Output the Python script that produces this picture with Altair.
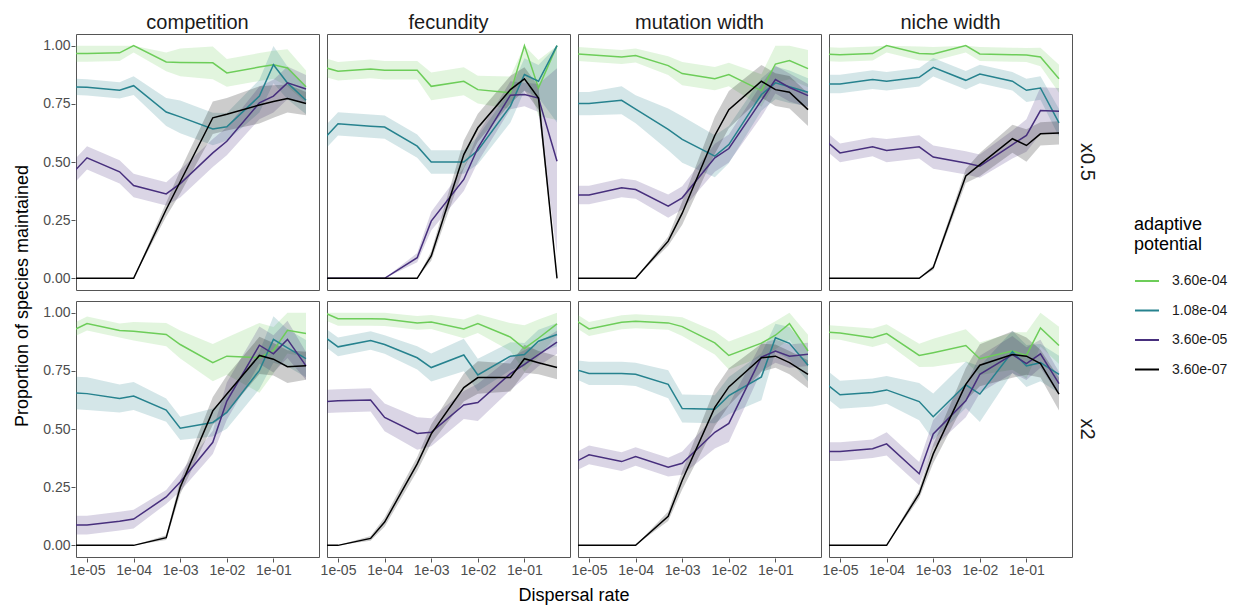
import altair as alt
import pandas as pd

# Dispersal rates (x positions of the points)
X = [5e-6, 1e-5, 5e-5, 1e-4, 5e-4, 1e-3, 5e-3, 1e-2, 5e-2, 1e-1, 2e-1, 5e-1]
X_TICKS = [1e-5, 1e-4, 1e-3, 1e-2, 1e-1]
X_TICK_LABELS = ["1e-05", "1e-04", "1e-03", "1e-02", "1e-01"]
Y_TICKS = [0, 0.25, 0.5, 0.75, 1.0]

TRAITS = ["competition", "fecundity", "mutation width", "niche width"]
SCALES = ["x0.5", "x2"]
POTENTIALS = ["3.60e-04", "1.08e-04", "3.60e-05", "3.60e-07"]
COLORS = ["#6DCD59", "#26828E", "#472F7D", "#000000"]

# means per panel: [green, teal, purple, black]
comp_half_mean = [
    [0.966, 0.966, 0.969, 1.00, 0.93, 0.928, 0.926, 0.883, 0.908, 0.918, 0.904, 0.823],
    [0.823, 0.821, 0.808, 0.828, 0.715, 0.694, 0.642, 0.651, 0.783, 0.918, 0.84, 0.765],
    [0.454, 0.518, 0.458, 0.399, 0.363, 0.407, 0.539, 0.589, 0.754, 0.783, 0.84, 0.814],
    [0, 0, 0, 0, 0.296, 0.415, 0.69, 0.705, 0.745, 0.76, 0.773, 0.751],
]
comp_half_se = [
    [0.035, 0.035, 0.035, 0.03, 0.04, 0.06, 0.07, 0.06, 0.06, 0.06, 0.08, 0.07],
    [0.035, 0.035, 0.035, 0.04, 0.06, 0.07, 0.07, 0.06, 0.07, 0.08, 0.07, 0.06],
    [0.05, 0.05, 0.05, 0.05, 0.05, 0.06, 0.06, 0.06, 0.07, 0.07, 0.07, 0.06],
    [0, 0, 0, 0, 0.03, 0.05, 0.07, 0.07, 0.08, 0.07, 0.06, 0.05],
]
fec_half_mean = [
    [0.907, 0.89, 0.90, 0.894, 0.894, 0.825, 0.847, 0.811, 0.797, 1.0, 0.818, 1.0],
    [0.60, 0.664, 0.654, 0.65, 0.568, 0.50, 0.50, 0.55, 0.74, 0.876, 0.847, 1.0],
    [0, 0, 0, 0, 0.089, 0.246, 0.425, 0.56, 0.787, 0.79, 0.775, 0.503],
    [0, 0, 0, 0, 0, 0.096, 0.532, 0.647, 0.811, 0.857, 0.775, 0.0],
]
fec_half_se = [
    [0.04, 0.04, 0.04, 0.04, 0.04, 0.06, 0.06, 0.06, 0.07, 0.12, 0.12, 0.32],
    [0.05, 0.05, 0.05, 0.05, 0.05, 0.05, 0.05, 0.06, 0.07, 0.07, 0.07, 0.33],
    [0, 0, 0, 0, 0.02, 0.04, 0.05, 0.06, 0.06, 0.05, 0.06, 0.40],
    [0, 0, 0, 0, 0, 0.02, 0.06, 0.06, 0.06, 0.05, 0.05, 0],
]
mut_half_mean = [
    [0.965, 0.961, 0.951, 0.958, 0.914, 0.88, 0.858, 0.876, 0.807, 0.921, 0.936, 0.901],
    [0.751, 0.751, 0.765, 0.727, 0.64, 0.597, 0.525, 0.575, 0.79, 0.84, 0.823, 0.80],
    [0.358, 0.358, 0.389, 0.382, 0.31, 0.346, 0.518, 0.558, 0.765, 0.854, 0.82, 0.785],
    [0, 0, 0, 0, 0.16, 0.28, 0.614, 0.725, 0.847, 0.811, 0.80, 0.725],
]
mut_half_se = [
    [0.03, 0.03, 0.03, 0.03, 0.04, 0.05, 0.05, 0.05, 0.07, 0.08, 0.08, 0.08],
    [0.05, 0.05, 0.06, 0.06, 0.09, 0.10, 0.09, 0.08, 0.07, 0.07, 0.07, 0.06],
    [0.04, 0.04, 0.04, 0.04, 0.05, 0.05, 0.06, 0.06, 0.07, 0.06, 0.06, 0.05],
    [0, 0, 0, 0, 0.02, 0.05, 0.08, 0.08, 0.07, 0.07, 0.07, 0.07],
]
niche_half_mean = [
    [0.964, 0.961, 0.966, 1.0, 0.966, 0.964, 1.0, 0.964, 0.961, 0.96, 0.951, 0.858],
    [0.835, 0.835, 0.854, 0.847, 0.864, 0.907, 0.851, 0.878, 0.847, 0.808, 0.818, 0.668],
    [0.59, 0.539, 0.565, 0.549, 0.565, 0.521, 0.496, 0.482, 0.575, 0.614, 0.721, 0.718],
    [0, 0, 0, 0, 0, 0.046, 0.44, 0.489, 0.6, 0.571, 0.621, 0.625],
]
niche_half_se = [
    [0.03, 0.03, 0.03, 0.03, 0.03, 0.03, 0.03, 0.03, 0.03, 0.03, 0.04, 0.06],
    [0.04, 0.04, 0.04, 0.04, 0.04, 0.04, 0.04, 0.04, 0.04, 0.05, 0.05, 0.06],
    [0.04, 0.04, 0.04, 0.05, 0.05, 0.05, 0.05, 0.05, 0.06, 0.07, 0.10, 0.10],
    [0, 0, 0, 0, 0, 0.01, 0.03, 0.05, 0.06, 0.07, 0.05, 0.05],
]
comp_two_mean = [
    [0.924, 0.953, 0.923, 0.92, 0.906, 0.863, 0.785, 0.813, 0.806, 0.838, 0.924, 0.91],
    [0.655, 0.652, 0.631, 0.642, 0.581, 0.503, 0.528, 0.571, 0.752, 0.885, 0.849, 0.802],
    [0.087, 0.087, 0.104, 0.113, 0.208, 0.272, 0.443, 0.62, 0.86, 0.823, 0.885, 0.771],
    [0, 0, 0, 0, 0.033, 0.25, 0.578, 0.65, 0.816, 0.80, 0.768, 0.772],
]
comp_two_se = [
    [0.03, 0.03, 0.03, 0.04, 0.05, 0.06, 0.08, 0.08, 0.15, 0.10, 0.10, 0.10],
    [0.07, 0.07, 0.06, 0.06, 0.05, 0.05, 0.06, 0.07, 0.08, 0.10, 0.08, 0.08],
    [0.04, 0.04, 0.04, 0.04, 0.03, 0.04, 0.05, 0.08, 0.08, 0.08, 0.08, 0.06],
    [0, 0, 0, 0, 0.01, 0.03, 0.06, 0.08, 0.08, 0.07, 0.07, 0.06],
]
fec_two_mean = [
    [1.0, 0.974, 0.974, 0.973, 0.956, 0.96, 0.93, 0.953, 0.895, 0.846, 0.89, 0.952],
    [0.897, 0.853, 0.88, 0.863, 0.806, 0.764, 0.818, 0.732, 0.813, 0.82, 0.877, 0.906],
    [0.618, 0.621, 0.625, 0.55, 0.481, 0.486, 0.603, 0.614, 0.738, 0.778, 0.82, 0.873],
    [0, 0.0, 0.03, 0.1, 0.35, 0.479, 0.678, 0.721, 0.721, 0.802, 0.785, 0.764],
]
fec_two_se = [
    [0.03, 0.03, 0.03, 0.03, 0.03, 0.03, 0.04, 0.04, 0.06, 0.10, 0.08, 0.05],
    [0.04, 0.04, 0.04, 0.04, 0.05, 0.06, 0.07, 0.07, 0.06, 0.05, 0.05, 0.05],
    [0.05, 0.05, 0.05, 0.06, 0.07, 0.06, 0.06, 0.08, 0.07, 0.06, 0.05, 0.05],
    [0, 0, 0.01, 0.02, 0.03, 0.04, 0.06, 0.07, 0.06, 0.06, 0.05, 0.05],
]
mut_two_mean = [
    [0.968, 0.93, 0.959, 0.963, 0.956, 0.94, 0.87, 0.816, 0.869, 0.903, 0.953, 0.835],
    [0.756, 0.739, 0.739, 0.735, 0.692, 0.588, 0.585, 0.643, 0.724, 0.892, 0.868, 0.774],
    [0.358, 0.389, 0.36, 0.382, 0.336, 0.353, 0.486, 0.524, 0.809, 0.835, 0.813, 0.821],
    [0, 0, 0, 0, 0.125, 0.28, 0.593, 0.681, 0.806, 0.813, 0.785, 0.735],
]
mut_two_se = [
    [0.03, 0.03, 0.03, 0.03, 0.03, 0.04, 0.05, 0.06, 0.06, 0.06, 0.07, 0.07],
    [0.04, 0.05, 0.05, 0.05, 0.06, 0.06, 0.06, 0.08, 0.10, 0.06, 0.07, 0.07],
    [0.04, 0.04, 0.04, 0.04, 0.04, 0.05, 0.07, 0.08, 0.06, 0.05, 0.05, 0.05],
    [0, 0, 0, 0, 0.02, 0.04, 0.08, 0.08, 0.06, 0.05, 0.05, 0.06],
]
niche_two_mean = [
    [0.916, 0.913, 0.892, 0.91, 0.816, 0.828, 0.859, 0.802, 0.835, 0.816, 0.934, 0.859],
    [0.695, 0.647, 0.657, 0.668, 0.618, 0.553, 0.69, 0.65, 0.832, 0.771, 0.785, 0.735],
    [0.403, 0.403, 0.415, 0.436, 0.308, 0.479, 0.621, 0.735, 0.82, 0.781, 0.823, 0.695],
    [0, 0, 0, 0, 0.222, 0.393, 0.692, 0.774, 0.82, 0.813, 0.781, 0.65],
]
niche_two_se = [
    [0.03, 0.03, 0.04, 0.04, 0.05, 0.06, 0.07, 0.07, 0.08, 0.10, 0.08, 0.08],
    [0.06, 0.06, 0.06, 0.06, 0.08, 0.10, 0.10, 0.12, 0.09, 0.09, 0.08, 0.08],
    [0.04, 0.04, 0.04, 0.05, 0.05, 0.06, 0.07, 0.08, 0.08, 0.07, 0.06, 0.05],
    [0, 0, 0, 0, 0.02, 0.04, 0.07, 0.09, 0.10, 0.08, 0.06, 0.07],
]

PANELS = [
    ("competition", "x0.5", comp_half_mean, comp_half_se),
    ("fecundity", "x0.5", fec_half_mean, fec_half_se),
    ("mutation width", "x0.5", mut_half_mean, mut_half_se),
    ("niche width", "x0.5", niche_half_mean, niche_half_se),
    ("competition", "x2", comp_two_mean, comp_two_se),
    ("fecundity", "x2", fec_two_mean, fec_two_se),
    ("mutation width", "x2", mut_two_mean, mut_two_se),
    ("niche width", "x2", niche_two_mean, niche_two_se),
]

rows = []
for trait, sc, means, ses in PANELS:
    for k, pot in enumerate(POTENTIALS):
        for i, xv in enumerate(X):
            m = means[k][i]
            s = ses[k][i]
            rows.append({
                "trait": trait, "scale": sc, "pot": pot, "order": k,
                "x": xv, "m": m,
                "lo": max(0.0, m - s), "hi": min(1.0, m + s),
            })
df = pd.DataFrame(rows)

FONT = "Liberation Sans"
label_expr = str(X_TICK_LABELS) + "[round(log(datum.value)/LN10)+5]"

xenc = alt.X(
    "x:Q",
    title=None,
    scale=alt.Scale(type="log", domain=[5.8e-6, 0.95], nice=False),
    axis=alt.Axis(values=X_TICKS, labelExpr=label_expr),
)
yscale = alt.Scale(domain=[-0.05, 1.05], nice=False, zero=False)
yaxis = alt.Axis(values=Y_TICKS, format=".2f")

# ribbon fill scale lists the same pairs in reverse order so its (disabled)
# legend is not merged with the line legend
area = alt.Chart().mark_area(opacity=0.2, clip=True).encode(
    x=xenc,
    y=alt.Y("lo:Q", scale=yscale, axis=yaxis, title=None),
    y2="hi:Q",
    fill=alt.Fill("pot:N", scale=alt.Scale(domain=POTENTIALS[::-1], range=COLORS[::-1]),
                  legend=None),
)
line = alt.Chart().mark_line(strokeWidth=1.5, clip=True).encode(
    x=xenc,
    y=alt.Y("m:Q", scale=yscale, axis=yaxis, title=None),
    color=alt.Color(
        "pot:N",
        scale=alt.Scale(domain=POTENTIALS, range=COLORS),
        legend=alt.Legend(
            title=["adaptive", "potential"], symbolType="stroke",
            orient="none", legendX=1058, legendY=182,
        ),
    ),
    order=alt.Order("order:Q"),
)

chart = alt.layer(area, line, data=df).properties(width=243, height=256).facet(
    column=alt.Column(
        "trait:N", sort=TRAITS, title="Dispersal rate",
        header=alt.Header(
            labelFontSize=20, labelColor="#1a1a1a", labelFont=FONT, labelPadding=0,
            labelOrient="top", titleOrient="bottom", titleFontSize=18,
            titleFont=FONT, titleColor="#000000", titleFontWeight="normal", titlePadding=0,
        ),
    ),
    row=alt.Row(
        "scale:N", sort=SCALES, title="Proportion of species maintained",
        header=alt.Header(
            labelFontSize=20, labelColor="#1a1a1a", labelFont=FONT,
            labelOrient="right", labelAngle=90, labelPadding=4,
            titleOrient="left", titleFontSize=18, titleFont=FONT,
            titleColor="#000000", titleFontWeight="normal", titlePadding=0,
        ),
    ),
    spacing={"column": 6, "row": 9},
).configure(
    background="white"
).configure_view(
    stroke="#555555", strokeWidth=1
).configure_axis(
    grid=False, domain=False, tickColor="#555555", tickSize=4,
    labelColor="#4d4d4d", labelFontSize=14, labelFont=FONT, labelPadding=1,
).configure_legend(
    titleFont=FONT, titleFontSize=18, titleFontWeight="normal", titleColor="#000000",
    labelFont=FONT, labelFontSize=14, labelColor="#1a1a1a", labelOffset=12,
    symbolStrokeWidth=2, symbolSize=576, rowPadding=9.5, titlePadding=14,
    titleLineHeight=20,
)

chart.save("out.html", embed_options={"renderer": "svg", "actions": False})
